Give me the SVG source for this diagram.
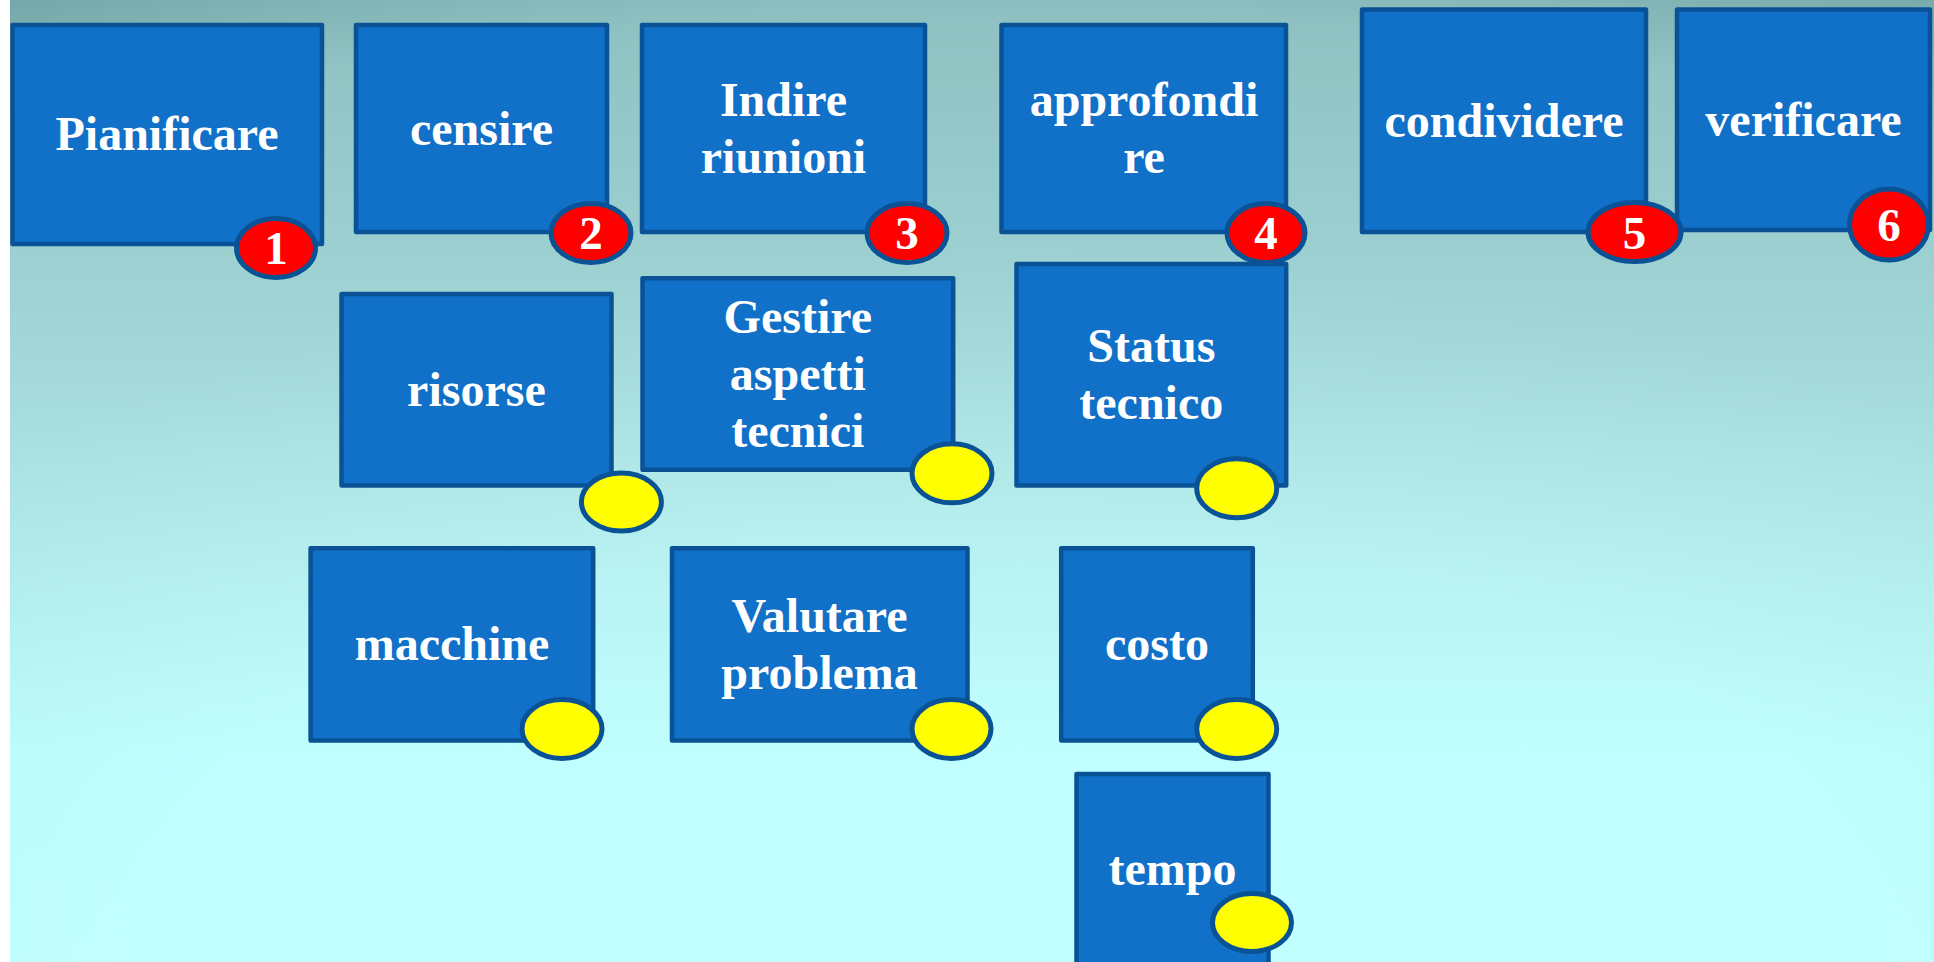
<svg xmlns="http://www.w3.org/2000/svg" width="1934" height="962" viewBox="0 0 1934 962">
<defs>
<linearGradient id="bgLin" x1="0" y1="0" x2="0" y2="1">
<stop offset="0" stop-color="#95C6C8"/>
<stop offset="0.3" stop-color="#A6DADB"/>
<stop offset="0.55" stop-color="#B7EFEF"/>
<stop offset="0.78" stop-color="#C0FFFF"/>
<stop offset="1" stop-color="#C2FFFF"/>
</linearGradient>
<radialGradient id="vignette" cx="0.52" cy="1" r="1.12">
<stop offset="0.4" stop-color="#0A3C3C" stop-opacity="0"/>
<stop offset="0.66" stop-color="#0A3C3C" stop-opacity="0.05"/>
<stop offset="0.88" stop-color="#0A3C3C" stop-opacity="0.05"/>
<stop offset="1" stop-color="#0A3C3C" stop-opacity="0.22"/>
</radialGradient>
</defs>
<style>
.box{fill:#1170C8;stroke:#0A5296;stroke-width:4.5;stroke-linejoin:round}
.red{fill:#FF0000;stroke:#0A5296;stroke-width:5}
.yel{fill:#FFFF00;stroke:#0A5296;stroke-width:5}
.lbl{font-family:"Liberation Serif","Times New Roman",serif;font-weight:bold;font-size:48px;fill:#FFFFFF;text-anchor:middle}
.num{font-family:"Liberation Serif","Times New Roman",serif;font-weight:bold;font-size:47px;fill:#FFFFFF;text-anchor:middle}
</style>
<rect x="0" y="0" width="1934" height="962" fill="url(#bgLin)"/>
<rect x="0" y="0" width="1934" height="962" fill="url(#vignette)"/>
<rect x="0" y="0" width="10" height="962" fill="#FFFFFF"/>
<g id="connectors"/>
<g id="n-pianificare">
<rect class="box" x="12.5" y="24.9" width="309.5" height="219"/>
<text class="lbl" x="167" y="150">Pianificare</text>
<ellipse class="red" cx="276" cy="248" rx="39.5" ry="29.5"/>
<text class="num" x="276" y="264">1</text>
</g>
<g id="n-censire">
<rect class="box" x="356" y="24.9" width="251" height="207"/>
<text class="lbl" x="481.5" y="144.5">censire</text>
<ellipse class="red" cx="591" cy="233" rx="40" ry="29.5"/>
<text class="num" x="591" y="249">2</text>
</g>
<g id="n-indire">
<rect class="box" x="642" y="24.9" width="283" height="207"/>
<text class="lbl" x="783.5" y="116">Indire</text>
<text class="lbl" x="783.5" y="173">riunioni</text>
<ellipse class="red" cx="907" cy="233" rx="40" ry="29.5"/>
<text class="num" x="907" y="249">3</text>
</g>
<g id="n-approfondire">
<rect class="box" x="1001.5" y="24.9" width="284.5" height="207"/>
<text class="lbl" x="1144" y="116">approfondi</text>
<text class="lbl" x="1144" y="173">re</text>
<ellipse class="red" cx="1266" cy="233" rx="39" ry="29.5"/>
<text class="num" x="1266" y="249">4</text>
</g>
<g id="n-verificare">
<rect class="box" x="1677" y="9.5" width="253" height="220.5"/>
<text class="lbl" x="1803.5" y="135.5">verificare</text>
<ellipse class="red" cx="1889" cy="224.5" rx="39.5" ry="35.5"/>
<text class="num" x="1889" y="241">6</text>
</g>
<g id="n-condividere">
<rect class="box" x="1362" y="9.5" width="284" height="222.5"/>
<text class="lbl" x="1504" y="136.5">condividere</text>
<ellipse class="red" cx="1634.5" cy="232" rx="46.5" ry="29.5"/>
<text class="num" x="1634.5" y="248.5">5</text>
</g>
<g id="n-risorse">
<rect class="box" x="341.5" y="294" width="270" height="191.5"/>
<text class="lbl" x="476.4" y="405.7">risorse</text>
<ellipse class="yel" cx="621.4" cy="502" rx="40" ry="29"/>
</g>
<g id="n-gestire">
<rect class="box" x="642.5" y="278.3" width="310.7" height="191.5"/>
<text class="lbl" x="797.8" y="333">Gestire</text>
<text class="lbl" x="797.8" y="390">aspetti</text>
<text class="lbl" x="797.8" y="447">tecnici</text>
<ellipse class="yel" cx="952" cy="473.3" rx="40" ry="29.5"/>
</g>
<g id="n-status">
<rect class="box" x="1016.5" y="264" width="269.7" height="221.5"/>
<text class="lbl" x="1151.3" y="362.2">Status</text>
<text class="lbl" x="1151.3" y="419.2">tecnico</text>
<ellipse class="yel" cx="1236.7" cy="488.3" rx="40" ry="29.5"/>
</g>
<g id="n-macchine">
<rect class="box" x="310.6" y="548.2" width="282.6" height="192.3"/>
<text class="lbl" x="452" y="660.3">macchine</text>
<ellipse class="yel" cx="562" cy="729" rx="40" ry="29.5"/>
</g>
<g id="n-valutare">
<rect class="box" x="672" y="548.2" width="295.5" height="192.3"/>
<text class="lbl" x="819.6" y="631.8">Valutare</text>
<text class="lbl" x="819.6" y="688.8">problema</text>
<ellipse class="yel" cx="951.5" cy="729" rx="39.5" ry="29.5"/>
</g>
<g id="n-costo">
<rect class="box" x="1061.2" y="548.2" width="191.6" height="192.3"/>
<text class="lbl" x="1157" y="660.3">costo</text>
<ellipse class="yel" cx="1236.7" cy="729" rx="40" ry="29.5"/>
</g>
<g id="n-tempo">
<rect class="box" x="1076.5" y="774" width="192" height="192"/>
<text class="lbl" x="1172.5" y="885">tempo</text>
<ellipse class="yel" cx="1252" cy="922.5" rx="39.5" ry="29"/>
</g>
</svg>
